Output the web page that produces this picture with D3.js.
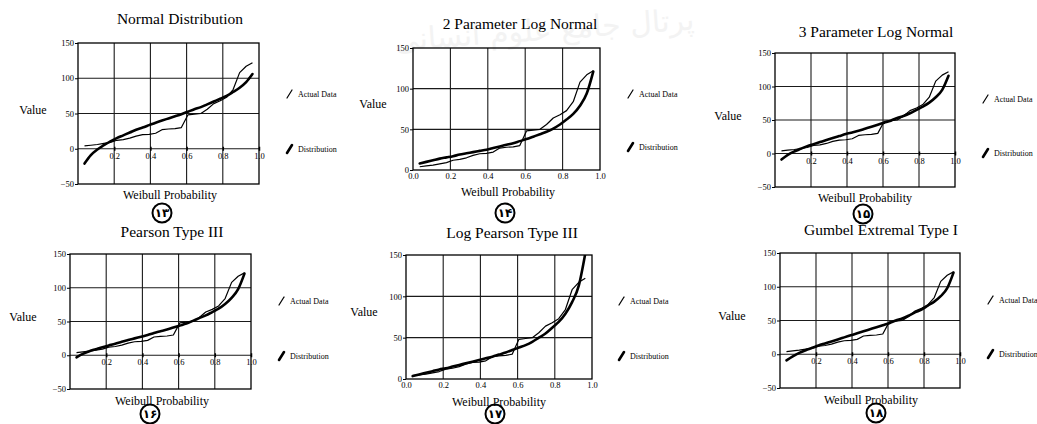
<!DOCTYPE html>
<html lang="en">
<head>
<meta charset="UTF-8">
<title>Distribution fits</title>
<script src="https://d3js.org/d3.v7.min.js"></script>
<style>
    body { margin: 0; background: #fff; }
    svg { font-family: "Liberation Serif", "Times New Roman", serif; display: block; }
    .tick line { stroke: #000; }
    .tick text { fill: #000; }
</style>
</head>
<body>
<div id="chart"></div>
<script>
    // Weibull plotting positions
    var probability = [0.036, 0.071, 0.107, 0.143, 0.179, 0.214, 0.25, 0.286, 0.321, 0.357, 0.393, 0.429, 0.464, 0.5,
                       0.536, 0.571, 0.607, 0.643, 0.679, 0.714, 0.75, 0.786, 0.821, 0.857, 0.893, 0.929, 0.964];

    // observed values (thin line, same in every panel)
    var actualData = [4, 5, 6, 7.5, 9, 12, 13, 15, 18, 20, 20.5, 22, 27, 28, 28.5, 30, 48, 49, 50, 56, 64, 68, 73, 84, 108, 117, 122];

    // fitted distributions (thick line)
    var normalDist  = [-21, -9, -1, 5, 10.5, 15, 19, 23, 27, 30, 33.5, 37, 40, 43, 46, 49, 52.5, 56, 59, 63, 67, 71, 75, 80.5, 86.5, 94.5, 106];
    var logNormal2  = [8, 10, 12, 14, 15.5, 17, 19, 20.5, 22, 23.5, 25, 27, 29, 31, 33, 35.5, 38, 41, 44, 47, 51, 56, 62, 69, 79, 94, 121];
    var logNormal3  = [-9, -2, 3, 7, 11, 14, 17, 20, 23, 26, 29, 31.5, 34, 37, 40, 43, 46, 49, 53, 56, 60, 65, 70, 76, 84, 95, 116];
    var pearson3    = [-3, 2, 6, 9, 12, 14.5, 17, 20, 22.5, 25, 27.5, 30, 33, 35.5, 38, 41, 44, 47, 51, 55, 59, 64, 69, 76, 85, 98, 121];
    var logPearson3 = [3.5, 5.5, 7.5, 9.5, 11.5, 13, 15, 17, 19, 21, 23, 25, 27, 29.5, 32, 35, 38, 41, 45, 50, 55, 62, 69, 79, 93, 113, 152];
    var gumbel      = [-9, -3, 2, 6, 9.5, 13, 16, 19, 22, 25, 28, 31, 34, 37, 40, 43, 46, 50, 53, 57, 62, 66, 72, 78, 86, 98, 121];

    var titles = ["Normal Distribution", "2 Parameter Log Normal", "3 Parameter Log Normal",
                  "Pearson Type III", "Log Pearson Type III", "Gumbel Extremal Type I"];
    var figureNumbers = ["۱۳", "۱۴", "۱۵", "۱۶", "۱۷", "۱۸"];
    var seriesNames = ["Actual Data", "Distribution"];

    var yTicksFull = [-50, 0, 50, 100, 150];
    var yTicksPositive = [0, 50, 100, 150];
    var xTicksFull = [0.2, 0.4, 0.6, 0.8, 1.0];
    var xTicksPositive = [0.0, 0.2, 0.4, 0.6, 0.8, 1.0];

    var fits = [normalDist, logNormal2, logNormal3, pearson3, logPearson3, gumbel];

    // panel geometry (pixel layout of the scanned page)
    var panels = [
        {x0: 78,  x1: 259, y0: 43,  y1: 184, full: true,  tx: 180, ty: 24,  vx: 33,  vy: 114, wx: 170, wy: 199, lx: 287, la: 99,  ld: 154, cx: 162, cy: 213},
        {x0: 413, x1: 600, y0: 48,  y1: 170, full: false, tx: 520, ty: 29,  vx: 373, vy: 108, wx: 508, wy: 196, lx: 628, la: 99,  ld: 152, cx: 505, cy: 213},
        {x0: 775, x1: 955, y0: 53,  y1: 187, full: true,  tx: 876, ty: 37,  vx: 728, vy: 120, wx: 865, wy: 202, lx: 983, la: 104, ld: 158, cx: 863, cy: 214},
        {x0: 70,  x1: 251, y0: 254, y1: 389, full: true,  tx: 172, ty: 237, vx: 23,  vy: 321, wx: 162, wy: 405, lx: 279, la: 306, ld: 361, cx: 150, cy: 414},
        {x0: 406, x1: 592, y0: 255, y1: 379, full: false, tx: 512, ty: 238, vx: 364, vy: 316, wx: 499, wy: 406, lx: 619, la: 306, ld: 361, cx: 495, cy: 414},
        {x0: 780, x1: 960, y0: 253, y1: 388, full: true,  tx: 881, ty: 235, vx: 732, vy: 320, wx: 871, wy: 404, lx: 988, la: 305, ld: 359, cx: 876, cy: 413}
    ];

    var svg = d3.select("#chart").append("svg")
        .attr("width", 1037)
        .attr("height", 424);

    svg.append("rect").attr("width", 1037).attr("height", 424).attr("fill", "#fff");

    // faint watermark of the scan
    svg.append("text")
        .attr("x", 545).attr("y", 40)
        .attr("text-anchor", "middle")
        .attr("transform", "rotate(-4,545,40)")
        .style("font-family", "DejaVu Sans")
        .style("font-size", "30px")
        .attr("fill", "#f3f3f3")
        .text("پرتال جامع علوم انسانی");

    panels.forEach(function(p, k) {
        var yDomain = p.full ? [-50, 150] : [0, 150];
        var x = d3.scaleLinear().domain([0, 1]).range([p.x0, p.x1]);
        var y = d3.scaleLinear().domain(yDomain).range([p.y1, p.y0]);
        var g = svg.append("g");

        var clipId = "clip" + k;
        g.append("clipPath").attr("id", clipId)
            .append("rect")
            .attr("x", p.x0).attr("y", p.y0)
            .attr("width", p.x1 - p.x0).attr("height", p.y1 - p.y0);

        // grid
        g.selectAll(".vgrid")
            .data([0.2, 0.4, 0.6, 0.8])
            .join("line")
            .attr("x1", d => x(d)).attr("x2", d => x(d))
            .attr("y1", p.y0).attr("y2", p.y1)
            .attr("stroke", "#1a1a1a").attr("stroke-width", 1.1);

        g.selectAll(".hgrid")
            .data(p.full ? [0, 50, 100] : [50, 100])
            .join("line")
            .attr("x1", p.x0).attr("x2", p.x1)
            .attr("y1", d => y(d)).attr("y2", d => y(d))
            .attr("stroke", "#1a1a1a").attr("stroke-width", 1.1);

        // frame
        g.append("rect")
            .attr("x", p.x0).attr("y", p.y0)
            .attr("width", p.x1 - p.x0).attr("height", p.y1 - p.y0)
            .attr("fill", "none").attr("stroke", "#000").attr("stroke-width", 1.3);

        // y axis
        var yAxis = g.append("g")
            .attr("transform", `translate(${p.x0},0)`)
            .call(d3.axisLeft(y).tickValues(p.full ? yTicksFull : yTicksPositive).tickSize(3).tickPadding(1));
        yAxis.select(".domain").remove();
        yAxis.selectAll("text").style("font-size", "8.5px").style("font-family", "Liberation Serif");

        // x axis (along the zero line when negative values are shown)
        var xAxis = g.append("g")
            .attr("transform", `translate(0,${y(0)})`)
            .call(d3.axisBottom(x).tickValues(p.full ? xTicksFull : xTicksPositive)
                .tickFormat(d3.format(".1f")).tickSize(p.full ? 3 : 0).tickPadding(p.full ? 1 : 3));
        xAxis.select(".domain").remove();
        xAxis.selectAll("text").style("font-size", "8.5px").style("font-family", "Liberation Serif");
        if (p.full) xAxis.selectAll("line").attr("y1", -2).attr("y2", 2).attr("stroke-width", 1.5);

        var line = d3.line()
            .x((d, i) => x(probability[i]))
            .y(d => y(d));

        var lines = g.append("g").attr("clip-path", `url(#${clipId})`);
        lines.append("path")
            .attr("d", line(actualData))
            .attr("fill", "none").attr("stroke", "#000").attr("stroke-width", 1.2)
            .attr("stroke-linejoin", "round");
        lines.append("path")
            .attr("d", line.curve(d3.curveMonotoneX)(fits[k]))
            .attr("fill", "none").attr("stroke", "#000").attr("stroke-width", 2.6)
            .attr("stroke-linejoin", "round").attr("stroke-linecap", "round");

        // labels
        g.append("text")
            .attr("x", p.tx).attr("y", p.ty)
            .attr("text-anchor", "middle")
            .style("font-size", "15.5px")
            .text(titles[k]);

        g.append("text")
            .attr("x", p.vx).attr("y", p.vy)
            .attr("text-anchor", "middle")
            .style("font-size", "12px")
            .text("Value");

        g.append("text")
            .attr("x", p.wx).attr("y", p.wy)
            .attr("text-anchor", "middle")
            .style("font-size", "12px")
            .text("Weibull Probability");

        // legend
        seriesNames.forEach(function(name, i) {
            var ly = i === 0 ? p.la : p.ld;
            g.append("line")
                .attr("x1", p.lx).attr("y1", ly - 1)
                .attr("x2", p.lx + 5).attr("y2", ly - 9)
                .attr("stroke", "#000")
                .attr("stroke-width", i === 0 ? 1.2 : 2.6)
                .attr("stroke-linecap", "round");
            g.append("text")
                .attr("x", p.lx + 11).attr("y", ly - 2)
                .style("font-size", "8px")
                .text(name);
        });

        // circled figure number
        g.append("circle")
            .attr("cx", p.cx).attr("cy", p.cy).attr("r", 9.5)
            .attr("fill", "none").attr("stroke", "#000").attr("stroke-width", 2);
        g.append("text")
            .attr("x", p.cx).attr("y", p.cy + 4)
            .attr("text-anchor", "middle")
            .style("font-family", "DejaVu Sans")
            .style("font-size", "12px")
            .style("font-weight", "bold")
            .text(figureNumbers[k]);
    });
</script>
</body>
</html>
